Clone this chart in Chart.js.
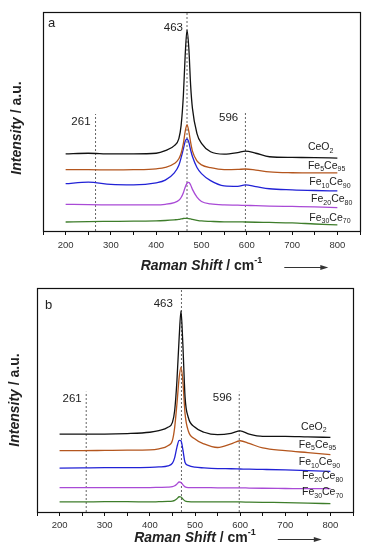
<!DOCTYPE html>
<html>
<head>
<meta charset="utf-8">
<script src="https://cdn.jsdelivr.net/npm/chart.js@4/dist/chart.umd.min.js"></script>
<style>
  html, body { margin: 0; padding: 0; background: #fff; }
  canvas { display: block; }
</style>
</head>
<body>
<canvas id="chartA" width="365" height="275"></canvas>
<canvas id="chartB" width="365" height="275"></canvas>
<script>
// Raman spectra, panel a
const shiftA = [200, 250, 300, 350, 400, 420, 440, 450, 455, 460, 464, 468, 472, 476, 480, 490, 500, 520, 550, 580, 597, 620, 650, 700, 750, 800];
const ceO2A  = [35.2, 35.5, 35.2, 35.2, 35.5, 36.7, 39.0, 42.2, 48.2, 62.0, 80.3, 91.7, 83.5, 66.5, 56.0, 44.5, 40.0, 36.2, 35.1, 35.8, 36.5, 35.5, 33.9, 33.6, 33.5, 33.3];
const fe5A   = [28.0, 28.0, 27.9, 28.0, 28.4, 29.0, 30.8, 33.0, 35.5, 40.0, 45.5, 48.6, 45.5, 40.5, 36.5, 32.0, 30.2, 28.9, 28.0, 28.1, 28.3, 27.8, 27.0, 26.6, 26.5, 26.5];
const fe10A  = [21.6, 22.3, 21.3, 21.1, 22.0, 23.2, 26.5, 30.0, 33.5, 37.5, 41.0, 42.0, 40.5, 37.0, 34.0, 29.0, 26.2, 23.0, 20.6, 20.4, 21.1, 20.3, 19.3, 18.8, 18.5, 18.3];
const fe20A  = [12.2, 12.0, 11.9, 11.9, 11.9, 12.2, 13.0, 14.0, 15.3, 17.5, 20.0, 21.8, 22.2, 21.0, 19.0, 15.5, 13.5, 12.4, 11.9, 11.8, 11.7, 11.6, 11.4, 11.2, 11.0, 10.7];
const fe30A  = [4.1, 4.3, 4.4, 4.5, 4.6, 4.8, 5.1, 5.3, 5.5, 5.7, 5.8, 5.8, 5.7, 5.5, 5.3, 4.9, 4.6, 4.4, 4.2, 4.2, 4.1, 4.0, 3.9, 3.7, 3.2, 2.8];
const bandsA = [266, 468, 597];

// panel b
const shiftB = [200, 250, 300, 350, 400, 420, 440, 450, 455, 460, 465, 469, 473, 478, 485, 500, 520, 550, 580, 600, 620, 650, 700, 750, 800];
const ceO2B  = [34.8, 34.8, 34.8, 35.0, 35.6, 36.3, 37.8, 40.0, 45.3, 58.7, 78.2, 89.8, 75.3, 51.3, 42.3, 37.8, 35.6, 34.5, 35.1, 36.2, 34.8, 33.8, 33.8, 33.5, 33.3];
const fe5B   = [27.4, 27.4, 27.5, 27.6, 27.7, 28.2, 29.6, 32.0, 37.8, 48.3, 60.2, 64.7, 58.7, 43.8, 36.3, 32.6, 30.4, 28.8, 30.4, 31.8, 30.6, 28.6, 27.4, 26.5, 25.6];
const fe10B  = [19.6, 19.7, 19.8, 19.8, 19.9, 20.1, 20.6, 21.8, 24.3, 29.0, 32.0, 31.8, 28.0, 22.1, 20.8, 20.0, 19.7, 19.4, 19.3, 19.2, 19.1, 19.0, 18.8, 18.5, 18.1];
const fe20B  = [10.9, 10.9, 10.9, 10.9, 10.9, 11.0, 11.1, 11.3, 11.7, 12.5, 13.4, 13.2, 12.2, 11.2, 10.9, 10.9, 10.9, 10.8, 10.8, 10.8, 10.7, 10.6, 10.5, 10.4, 10.4];
const fe30B  = [4.5, 4.5, 4.6, 4.6, 4.5, 4.6, 4.7, 4.9, 5.2, 5.9, 6.8, 6.7, 5.8, 4.9, 4.6, 4.5, 4.5, 4.5, 4.5, 4.5, 4.4, 4.3, 4.2, 4.0, 3.7];
const bandsB = [259, 470, 598];

const bandLabels = ["261", "463", "596"];
// sample names as [text, subscript] pairs
const sampleNames = [
  [["CeO", "2"]],
  [["Fe", "5"], ["Ce", "95"]],
  [["Fe", "10"], ["Ce", "90"]],
  [["Fe", "20"], ["Ce", "80"]],
  [["Fe", "30"], ["Ce", "70"]],
];
const sampleColors = ["#111111", "#b4561e", "#2222d6", "#a94ad6", "#3e7d2b"];

const FONT = "'Liberation Sans', Arial, sans-serif";

function drawRich(ctx, parts, x, y, align) {
  let w = 0;
  parts.forEach(p => { ctx.font = p.f; p.w = ctx.measureText(p.t).width; w += p.w; });
  let cx = align === "center" ? x - w / 2 : align === "right" ? x - w : x;
  parts.forEach(p => { ctx.font = p.f; ctx.fillText(p.t, cx, y + (p.dy || 0)); cx += p.w; });
  return w;
}

const decor = {
  id: "decor",
  afterDraw(chart, args, o) {
    const { ctx, chartArea: a, scales: { x, y } } = chart;
    ctx.save();
    // box frame
    ctx.strokeStyle = "#111";
    ctx.lineWidth = 1.2;
    ctx.strokeRect(Math.round(a.left) + 0.5, Math.round(a.top) + 0.5, Math.round(a.right - a.left), Math.round(a.bottom - a.top));

    ctx.fillStyle = "#222";
    ctx.textBaseline = "middle";
    // panel letter
    ctx.font = "13px " + FONT;
    ctx.textAlign = "left";
    ctx.fillText(o.letter, o.letterPos[0], o.letterPos[1]);

    // band labels
    ctx.font = "11.5px " + FONT;
    ctx.textAlign = "right";
    bandLabels.forEach((t, i) => {
      ctx.fillText(t, x.getPixelForValue(o.bandText[i][0]), y.getPixelForValue(o.bandText[i][1]));
    });

    // sample names at line ends
    ctx.textAlign = "left";
    sampleNames.forEach((name, i) => {
      const parts = [];
      name.forEach(([t, s]) => {
        parts.push({ t: t, f: "10.5px " + FONT });
        parts.push({ t: s, f: "7px " + FONT, dy: 3.5 });
      });
      drawRich(ctx, parts, x.getPixelForValue(o.nameAt[i][0]), y.getPixelForValue(o.nameAt[i][1]), "left");
    });

    // y title
    ctx.save();
    ctx.translate(o.yTitle[0], o.yTitle[1]);
    ctx.rotate(-Math.PI / 2);
    drawRich(ctx, [
      { t: "Intensity", f: "italic bold 14px " + FONT },
      { t: " / a.u.", f: "bold 14px " + FONT },
    ], 0, 0, "center");
    ctx.restore();

    // x title + arrow
    const cx = (a.left + a.right) / 2;
    const w = drawRich(ctx, [
      { t: "Raman Shift", f: "italic bold 14px " + FONT },
      { t: " / cm", f: "bold 14px " + FONT },
      { t: "-1", f: "bold 9px " + FONT, dy: -5 },
    ], cx, o.xTitleY, "center");
    const ax = cx + w / 2 + 22, ay = o.xTitleY + 1;
    ctx.strokeStyle = "#333";
    ctx.lineWidth = 1;
    ctx.beginPath();
    ctx.moveTo(ax, ay + 0.5);
    ctx.lineTo(ax + 38, ay + 0.5);
    ctx.stroke();
    ctx.fillStyle = "#333";
    ctx.beginPath();
    ctx.moveTo(ax + 44, ay + 0.5);
    ctx.lineTo(ax + 36, ay - 2);
    ctx.lineTo(ax + 36, ay + 3);
    ctx.closePath();
    ctx.fill();
    ctx.restore();
  },
};

function makePanel(id, shift, series, bands, bandTops, opts) {
  const datasets = series.map((vals, i) => ({
    data: shift.map((v, j) => ({ x: v, y: vals[j] })),
    borderColor: sampleColors[i],
    borderWidth: 1.3,
    pointRadius: 0,
    cubicInterpolationMode: "monotone",
    fill: false,
  }));
  bands.forEach((b, i) => {
    datasets.push({
      data: [{ x: b, y: 0 }, { x: b, y: bandTops[i] }],
      borderColor: "#666",
      borderWidth: 1,
      borderDash: [2, 2],
      pointRadius: 0,
      fill: false,
    });
  });
  return new Chart(document.getElementById(id), {
    type: "line",
    data: { datasets: datasets },
    options: {
      responsive: false,
      animation: false,
      layout: { padding: opts.padding },
      plugins: {
        legend: { display: false },
        tooltip: { enabled: false },
        decor: opts.decor,
      },
      scales: {
        x: {
          type: "linear",
          min: 150,
          max: 850,
          afterFit: s => { s.height = opts.xHeight; },
          grid: { drawOnChartArea: false, drawTicks: true, tickLength: 4, color: "#111" },
          border: { display: true, color: "#111" },
          ticks: {
            stepSize: 50,
            autoSkip: false,
            maxRotation: 0,
            padding: opts.tickPad,
            color: "#333",
            font: { family: FONT, size: 9.5 },
            callback: v => (v % 100 === 0 ? String(v) : ""),
          },
        },
        y: { display: false, min: 0, max: 100 },
      },
    },
    plugins: [decor],
  });
}

makePanel("chartA", shiftA, [ceO2A, fe5A, fe10A, fe20A, fe30A], bandsA, [53.4, 100, 54.3], {
  padding: { left: 43, right: 5, top: 12, bottom: 0 },
  xHeight: 44,
  tickPad: 5,
  decor: {
    letter: "a",
    letterPos: [48, 23],
    bandText: [[255, 49.8], [459, 93], [581, 51.6]],
    nameAt: [[735, 38.2], [735, 29.8], [738, 22.2], [742, 14.5], [738, 6.1]],
    yTitle: [17, 128],
    xTitleY: 266,
  },
});

makePanel("chartB", shiftB, [ceO2B, fe5B, fe10B, fe20B, fe30B], bandsB, [53.7, 100, 53.7], {
  padding: { left: 37, right: 12, top: 13, bottom: 0 },
  xHeight: 38,
  tickPad: 4,
  decor: {
    letter: "b",
    letterPos: [45, 30],
    bandText: [[249, 50.4], [451, 92.9], [582, 50.9]],
    nameAt: [[735, 38.1], [730, 30.0], [730, 22.1], [737, 15.8], [737, 8.7]],
    yTitle: [15, 125],
    xTitleY: 263,
  },
});
</script>
</body>
</html>
